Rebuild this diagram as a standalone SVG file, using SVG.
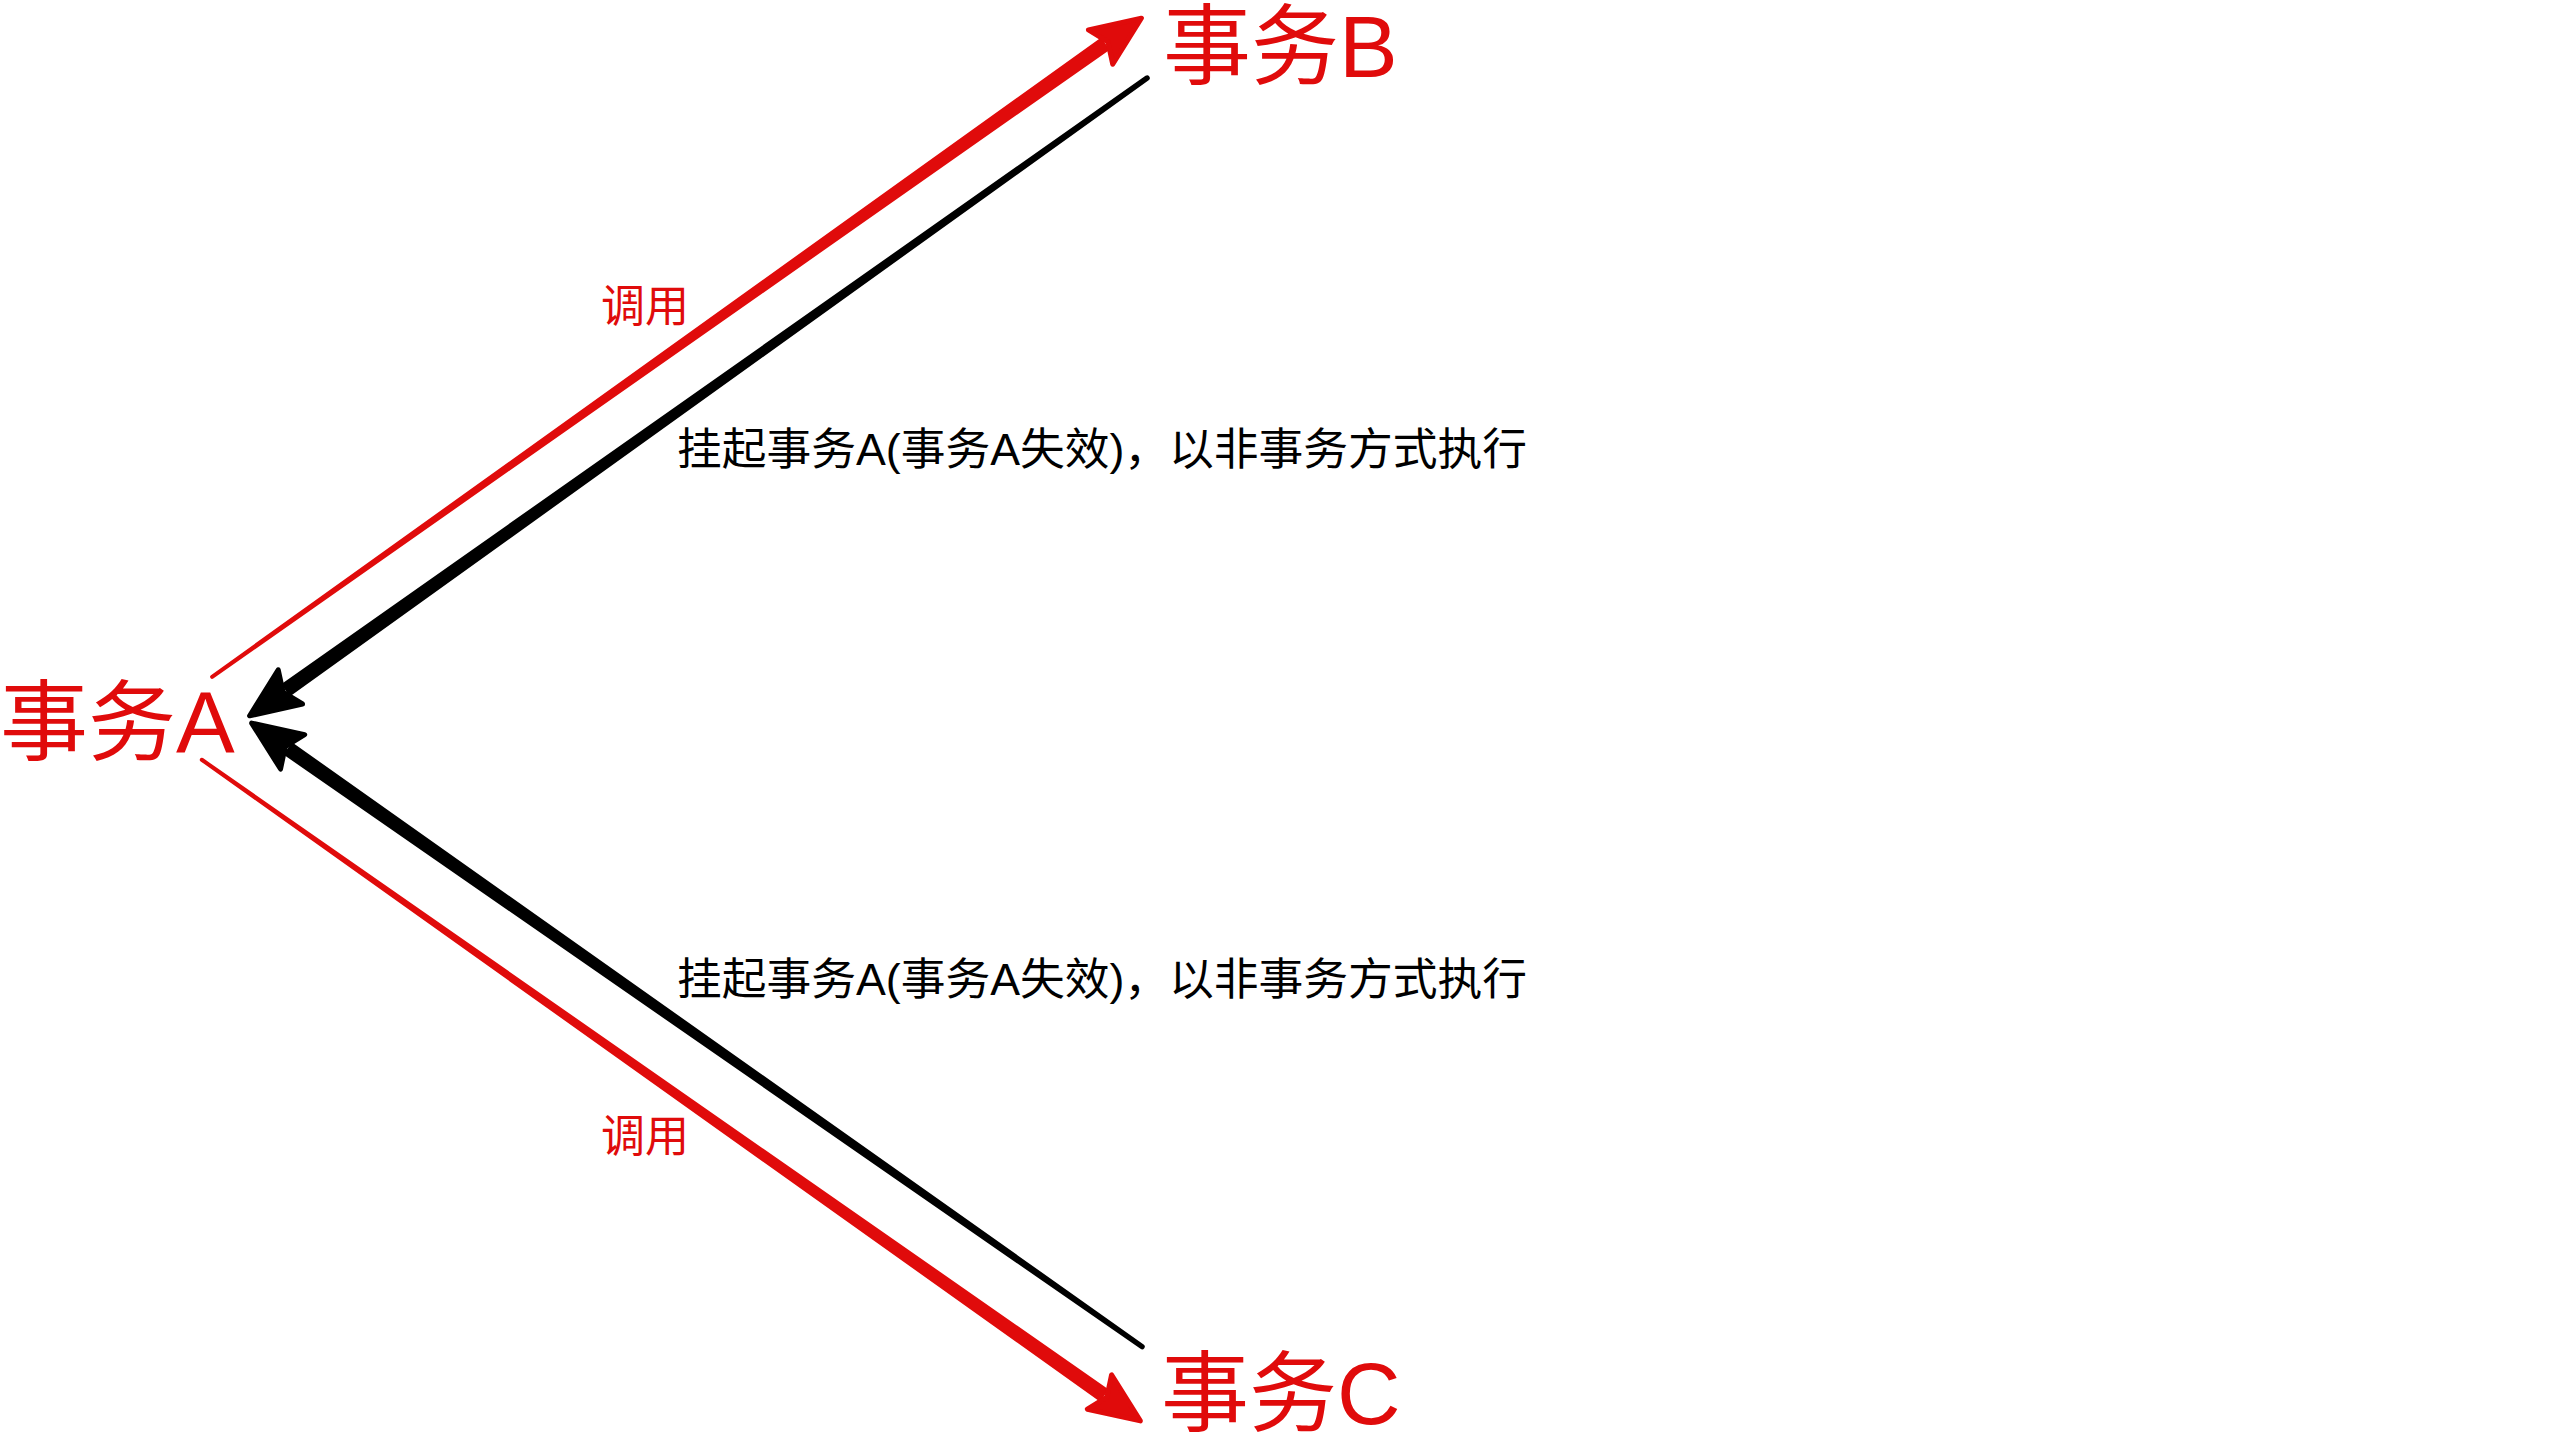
<svg xmlns="http://www.w3.org/2000/svg" width="2560" height="1440" viewBox="0 0 2560 1440">
<style>
.node{font-family:"Liberation Sans","Noto Sans CJK SC",sans-serif;font-size:88px;fill:#e00b0b}
.lbl{font-family:"Liberation Sans","Noto Sans CJK SC",sans-serif;font-size:44px}
.red{fill:#e00b0b;stroke:#e00b0b}
.blk{fill:#000;stroke:#000}
.head{stroke-width:5;stroke-linejoin:round}
.shaft{stroke:none}
</style>
<rect width="2560" height="1440" fill="#fff"/>
<g id="connectors">
  <g id="call-b" class="red" transform="translate(1143,17) rotate(-35.33)">
    <path class="shaft" d="M-46,-7.5 L-1141,-2 A2 2 0 0 0 -1141,2 L-46,7.5 Z"/>
    <polygon class="head" points="-2,0 -52,-21 -43,0 -52,21"/>
  </g>
  <g id="suspend-b" class="blk" transform="translate(248,717) rotate(144.6)">
    <path class="shaft" d="M-46,-7.5 L-1103,-2.7 A2.7 2.7 0 0 0 -1103,2.7 L-46,7.5 Z"/>
    <polygon class="head" points="-2,0 -52,-21 -43,0 -52,21"/>
  </g>
  <g id="suspend-c" class="blk" transform="translate(250,722) rotate(-145.0)">
    <path class="shaft" d="M-46,-7.5 L-1089,-2.7 A2.7 2.7 0 0 0 -1089,2.7 L-46,7.5 Z"/>
    <polygon class="head" points="-2,0 -52,-21 -43,0 -52,21"/>
  </g>
  <g id="call-c" class="red" transform="translate(1142,1422) rotate(35.16)">
    <path class="shaft" d="M-46,-7.5 L-1150,-2 A2 2 0 0 0 -1150,2 L-46,7.5 Z"/>
    <polygon class="head" points="-2,0 -52,-21 -43,0 -52,21"/>
  </g>
  <text class="lbl" x="601" y="322" fill="#e00b0b">调用</text>
  <text class="lbl" x="601" y="1152" fill="#e00b0b">调用</text>
  <text class="lbl" x="677" y="465" fill="#000" textLength="850" lengthAdjust="spacingAndGlyphs">挂起事务A(事务A失效)，以非事务方式执行</text>
  <text class="lbl" x="677" y="995" fill="#000" textLength="850" lengthAdjust="spacingAndGlyphs">挂起事务A(事务A失效)，以非事务方式执行</text>
</g>
<g id="node-a"><text class="node" x="0" y="753">事务A</text></g>
<g id="node-b"><text class="node" x="1163" y="77">事务B</text></g>
<g id="node-c"><text class="node" x="1161" y="1424">事务C</text></g>
</svg>
